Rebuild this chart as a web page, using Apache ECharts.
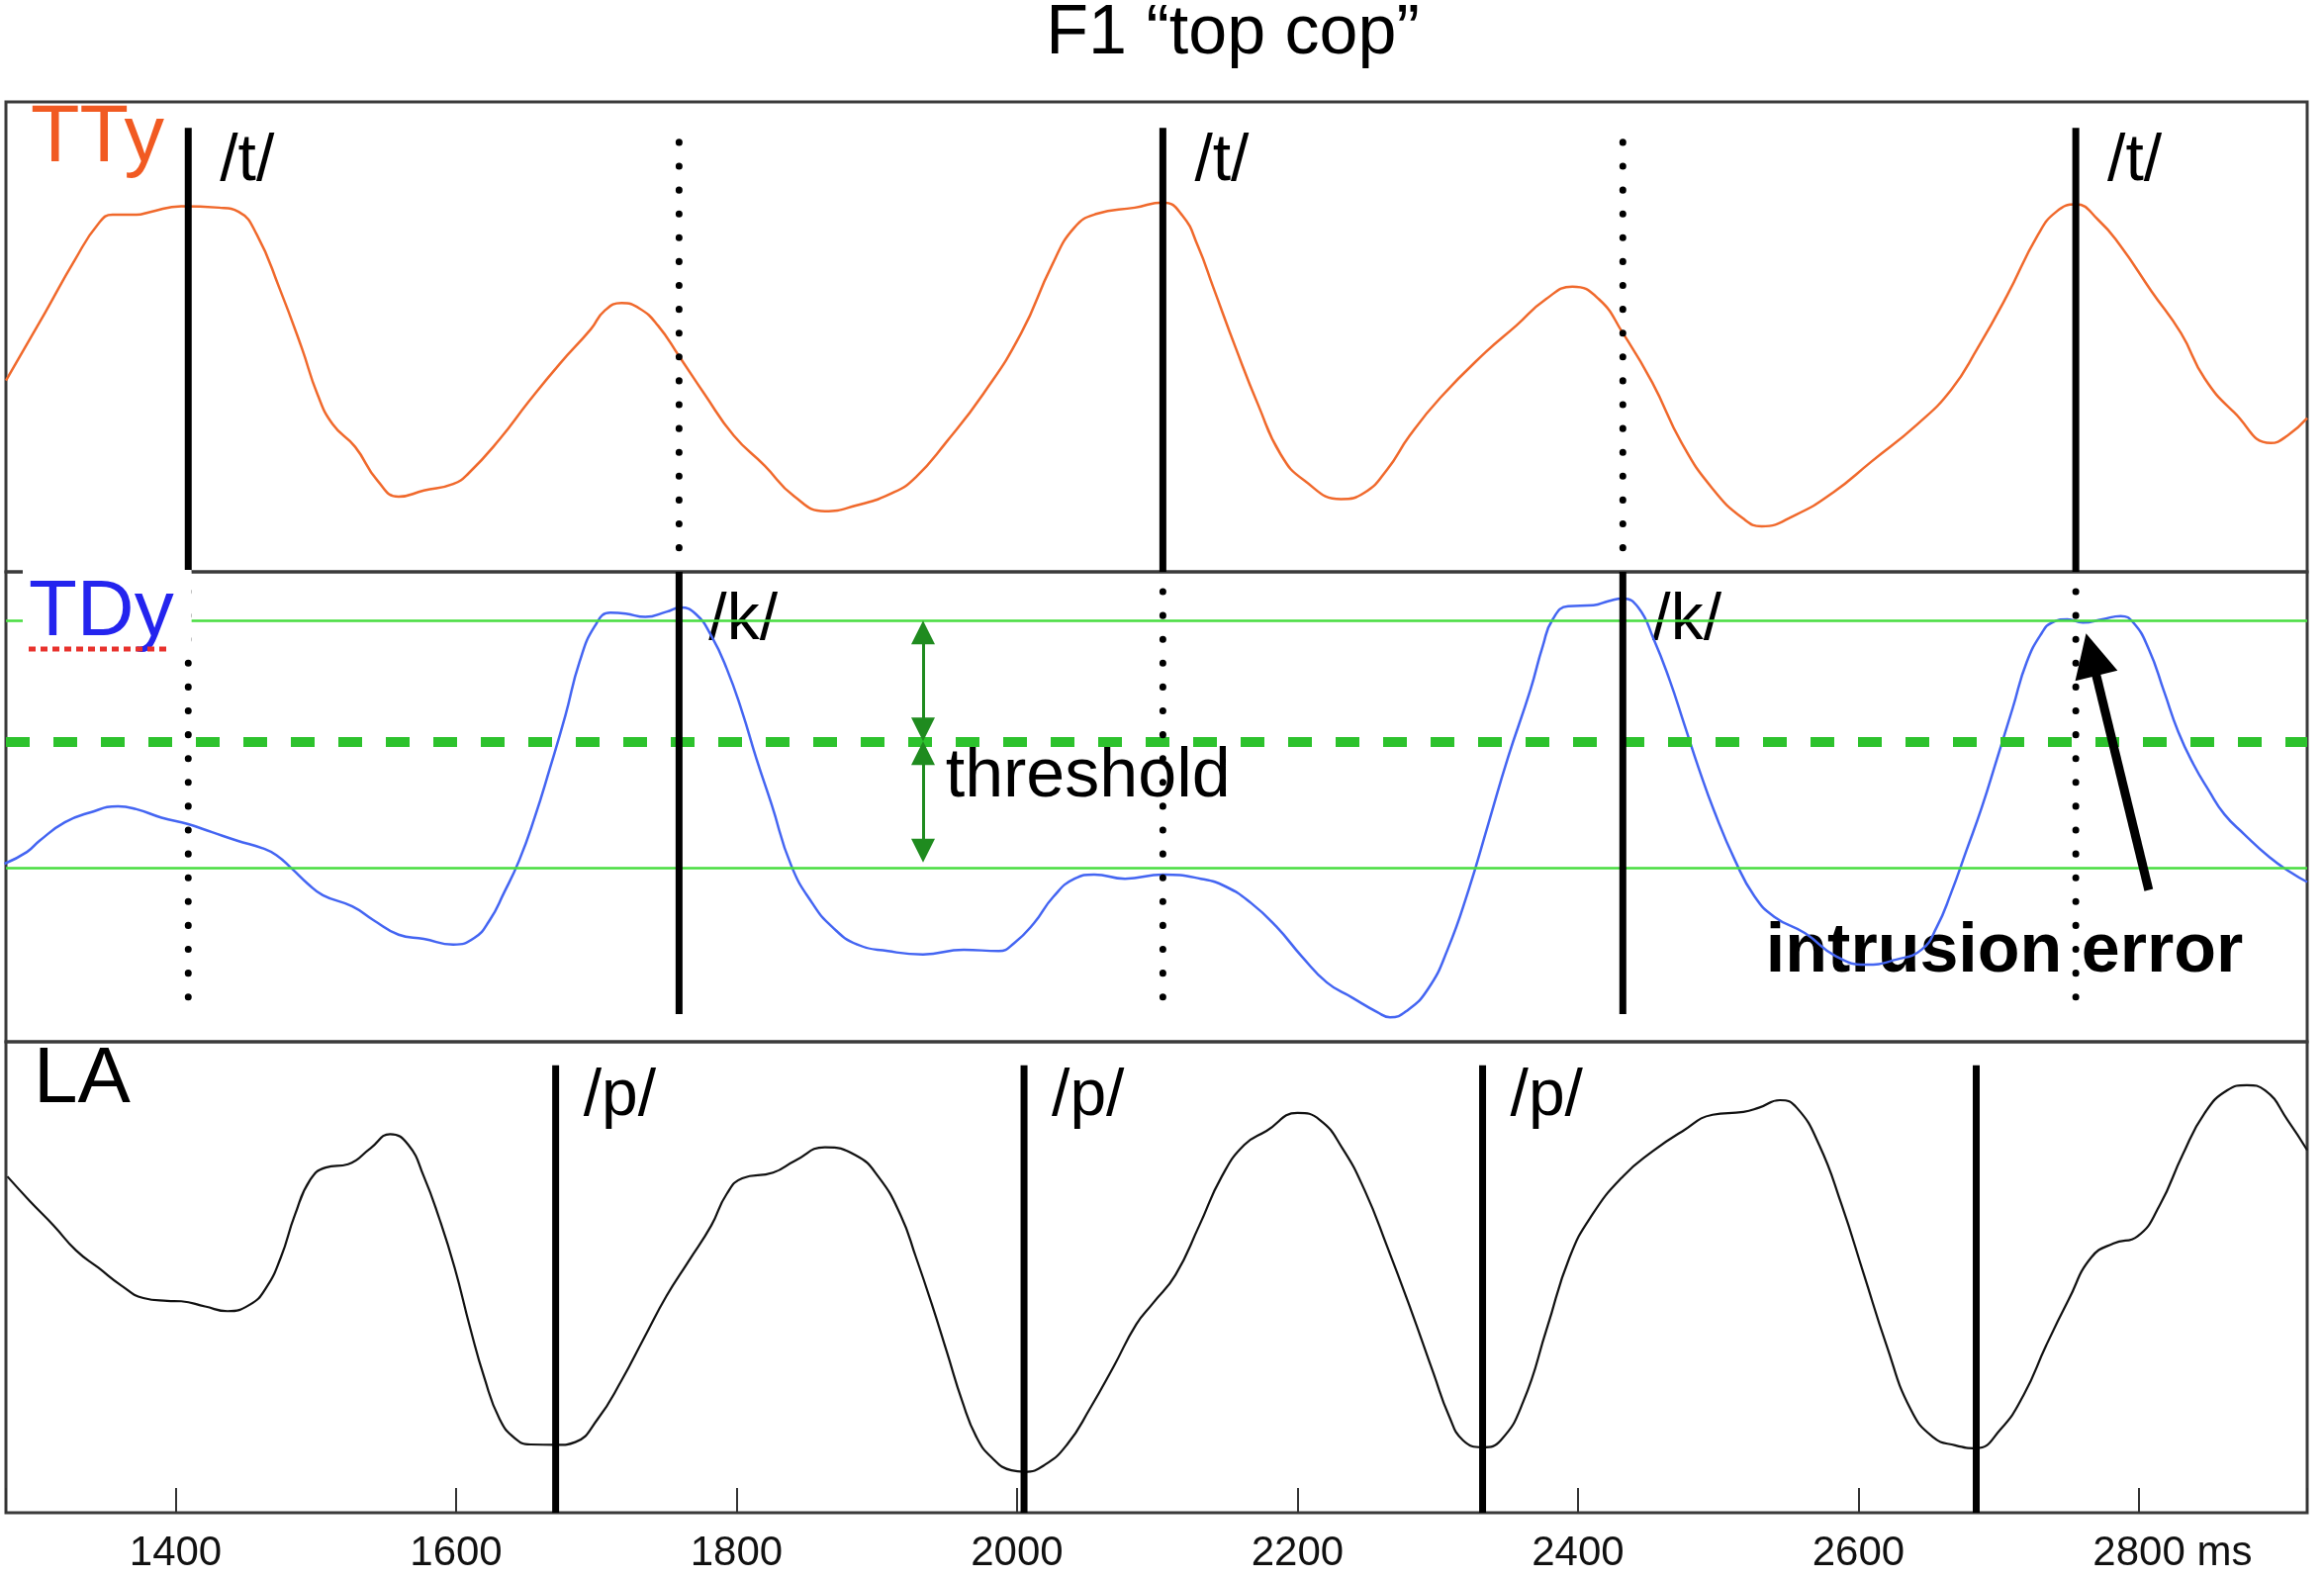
<!DOCTYPE html>
<html>
<head>
<meta charset="utf-8">
<script src="https://cdn.jsdelivr.net/npm/echarts@6/dist/echarts.min.js"></script>
<style>
html,body{margin:0;padding:0;background:#fff;}
#chart{width:2349px;height:1597px;}
</style>
</head>
<body>
<div id="chart"></div>
<script>
// ---- data (time in ms, values in % of panel height) ----
const TTY = [[1279,40.7],[1307,55.2],[1328,66.3],[1345,74.1],[1355,76.0],[1372,76.0],[1382,76.6],[1404,77.8],[1431,77.5],[1445,76.6],[1458,71.7],[1474,60.4],[1490,47.6],[1501,37.9],[1512,31.4],[1528,26.6],[1544,19.4],[1559,16.0],[1577,17.3],[1598,18.7],[1609,21.0],[1631,28.2],[1652,36.3],[1674,44.3],[1696,51.6],[1706,55.6],[1718,57.2],[1731,56.0],[1744,52.4],[1759,45.9],[1777,37.9],[1798,29.0],[1820,22.6],[1841,16.1],[1863,12.9],[1885,14.1],[1912,16.9],[1928,20.2],[1949,27.4],[1976,37.9],[2003,50.8],[2025,65.3],[2041,73.3],[2057,76.2],[2084,77.5],[2104,78.6],[2118,75.8],[2129,69.3],[2140,60.5],[2156,47.6],[2172,35.5],[2188,25.0],[2205,19.4],[2231,15.5],[2248,16.9],[2264,21.8],[2280,29.0],[2302,37.1],[2334,46.7],[2356,52.4],[2377,58.0],[2396,60.7],[2415,58.0],[2432,50.8],[2453,40.3],[2474,27.4],[2496,17.7],[2518,11.3],[2531,9.7],[2555,12.1],[2582,16.9],[2609,23.4],[2642,31.4],[2666,38.7],[2685,47.6],[2706,58.8],[2728,71.7],[2741,76.6],[2755,78.2],[2771,74.9],[2787,69.3],[2809,59.7],[2830,50.8],[2847,41.1],[2868,33.9],[2894,27.4],[2906,29.0],[2920,32.7]];

const TDY = [[1278,37.9],[1294,40.4],[1303,42.8],[1321,46.7],[1339,48.8],[1359,50.1],[1372,49.5],[1390,47.7],[1409,46.3],[1426,44.6],[1444,42.8],[1462,41.2],[1472,39.7],[1483,36.8],[1494,33.7],[1505,31.2],[1526,28.8],[1541,25.9],[1559,22.8],[1577,21.9],[1598,20.7],[1613,22.1],[1624,25.9],[1634,31.6],[1645,38.6],[1656,47.7],[1667,58.3],[1678,69.5],[1688,80.8],[1699,88.5],[1710,91.3],[1721,91.1],[1735,90.4],[1750,91.5],[1760,92.4],[1771,91.0],[1782,86.4],[1793,79.4],[1804,70.2],[1814,60.4],[1825,50.5],[1839,37.5],[1854,29.5],[1868,24.5],[1886,20.7],[1908,19.3],[1933,18.6],[1962,19.6],[1987,19.3],[1998,21.0],[2012,25.2],[2026,30.9],[2041,34.7],[2055,35.6],[2077,34.7],[2104,35.6],[2131,34.7],[2149,33.0],[2167,29.5],[2185,24.5],[2203,18.2],[2221,12.6],[2239,9.4],[2257,6.3],[2266,5.2],[2278,6.6],[2293,11.2],[2307,19.6],[2322,32.3],[2336,46.3],[2350,60.4],[2366,74.8],[2375,84.3],[2382,89.9],[2393,92.7],[2411,92.9],[2422,93.8],[2432,94.3],[2443,92.4],[2454,85.7],[2465,77.3],[2476,67.4],[2486,58.3],[2497,49.2],[2512,38.6],[2526,30.9],[2540,26.6],[2562,23.1],[2584,18.2],[2605,16.4],[2627,17.5],[2645,19.6],[2656,24.5],[2666,31.6],[2677,40.7],[2688,49.9],[2699,60.4],[2710,71.0],[2720,80.8],[2731,87.1],[2738,89.2],[2749,89.9],[2760,89.2],[2774,89.9],[2787,90.6],[2796,89.2],[2807,83.6],[2818,74.5],[2828,66.0],[2839,59.0],[2850,53.4],[2861,48.4],[2875,44.2],[2893,39.3],[2908,36.1],[2920,34.0]];

const LA = [[1280,71.4],[1296,66.2],[1313,61.0],[1329,55.7],[1345,52.0],[1361,48.3],[1377,45.6],[1394,45.0],[1404,44.9],[1421,43.8],[1437,42.8],[1453,44.2],[1464,47.5],[1475,54.2],[1485,63.2],[1496,70.7],[1507,73.3],[1523,74.0],[1539,77.4],[1553,80.4],[1566,78.1],[1577,71.4],[1588,62.5],[1599,52.0],[1610,39.3],[1620,28.8],[1631,19.9],[1642,15.8],[1653,14.5],[1672,14.4],[1685,15.0],[1701,19.9],[1718,28.1],[1734,37.1],[1750,46.0],[1766,53.5],[1782,61.0],[1793,67.7],[1804,71.0],[1826,72.2],[1842,74.8],[1863,77.6],[1885,75.9],[1901,71.4],[1917,63.2],[1928,54.2],[1939,44.5],[1950,34.1],[1961,23.6],[1971,16.1],[1982,11.7],[1996,9.0],[2005,8.7],[2020,10.2],[2036,14.6],[2052,22.1],[2069,31.1],[2085,40.0],[2097,44.5],[2113,50.5],[2130,61.0],[2146,71.4],[2162,78.1],[2178,81.1],[2200,84.9],[2216,83.4],[2232,77.4],[2248,68.4],[2264,56.5],[2281,43.0],[2297,29.6],[2308,20.6],[2318,15.4],[2332,13.9],[2345,15.4],[2361,23.6],[2378,39.3],[2394,54.2],[2410,63.2],[2432,71.4],[2453,76.7],[2475,81.1],[2496,84.5],[2518,85.1],[2529,86.0],[2544,87.6],[2556,86.0],[2572,78.1],[2588,65.4],[2604,50.5],[2620,35.6],[2637,22.1],[2653,16.1],[2669,14.3],[2684,13.7],[2701,17.6],[2718,25.1],[2734,35.6],[2750,45.3],[2766,54.2],[2782,57.2],[2799,58.7],[2815,65.4],[2831,75.9],[2847,84.9],[2863,89.7],[2877,90.8],[2890,89.7],[2906,83.4],[2920,77.0]];

const T_TIMES = [1409, 2104, 2755];        // /t/ events
const K_TIMES = [1759, 2432];              // /k/ events
const P_TIMES = [1671, 2005, 2332, 2684];  // /p/ events
const P_LABELLED = 3;                      // first three /p/ lines are labelled

const TD_UPPER = 89.7;       // upper thin green reference
const TD_THRESHOLD = 63.9;   // dashed threshold
const TD_LOWER = 36.9;       // lower thin green reference

const X_MIN = 1279, X_MAX = 2920;
const TITLE = 'F1 “top cop”';
const PANEL_NAMES = ['TTy', 'TDy', 'LA'];

// ---- chart ----
const FONT = '"Liberation Sans", Arial, Helvetica, sans-serif';
const chart = echarts.init(document.getElementById('chart'), null, {renderer: 'canvas'});

const gridTops = [103, 578, 1053];
const gridHeights = [475, 475, 476];
const grids = gridTops.map((t, i) => ({
  left: 6, width: 2326, top: t, height: gridHeights[i],
  show: true, borderColor: '#3a3a3a', borderWidth: 3, backgroundColor: 'transparent'
}));

const xAxes = [0, 1, 2].map(i => ({
  gridIndex: i, type: 'value', min: X_MIN, max: X_MAX,
  splitNumber: 8, minInterval: 200, maxInterval: 200,
  show: i === 2,
  axisLine: {show: false},
  splitLine: {show: false},
  axisTick: {show: i === 2, inside: true, length: 25, lineStyle: {color: '#333', width: 2}},
  axisLabel: {
    show: i === 2, fontSize: 42, color: '#111', fontFamily: FONT, margin: 20,
    formatter: v => (v % 200 === 0 ? (v === 2800 ? '{pad|}2800 ms' : String(v)) : ''),
    rich: {pad: {width: 68}}
  }
}));
const yAxes = [0, 1, 2].map(i => ({gridIndex: i, type: 'value', min: 0, max: 100, show: false}));

const SOLID = {color: '#000', width: 7, type: 'solid'};
const DOTTED = {color: '#000', width: 7, type: [0.1, 24], cap: 'round'};

function vline(t, gi, top, bot, style) {
  return {
    type: 'line', xAxisIndex: gi, yAxisIndex: gi, data: [[t, top], [t, bot]],
    symbol: 'none', lineStyle: style, z: 6, silent: true, animation: false
  };
}
function textSeries(gi, items, dist, extra) {
  return {
    type: 'scatter', xAxisIndex: gi, yAxisIndex: gi, symbolSize: 0, z: 3, silent: true,
    itemStyle: {opacity: 1},
    data: items,
    label: Object.assign({show: true, position: 'right', distance: dist, formatter: p => p.name,
      fontSize: 66, color: '#000', opacity: 1, fontFamily: FONT}, extra || {})
  };
}
function phonemes(times, gi, v, text, dist) {
  return textSeries(gi, times.map(t => ({value: [t, v], name: text})), dist);
}

const series = [
  {type: 'line', xAxisIndex: 0, yAxisIndex: 0, data: TTY, smooth: 0.5, symbol: 'none',
   lineStyle: {color: '#f0692c', width: 2.5}, z: 4},
  {type: 'line', xAxisIndex: 1, yAxisIndex: 1, data: TDY, smooth: 0.5, symbol: 'none',
   lineStyle: {color: '#4465f2', width: 2.5}, z: 4,
   markLine: {
     silent: true, symbol: 'none', label: {show: false}, animation: false,
     data: [
       {yAxis: TD_UPPER, lineStyle: {color: '#47dd3f', width: 2.5, type: 'solid'}},
       {yAxis: TD_LOWER, lineStyle: {color: '#47dd3f', width: 2.5, type: 'solid'}},
       {yAxis: TD_THRESHOLD, lineStyle: {color: '#2dc22d', width: 10, type: [24, 24]}}
     ]
   }},
  {type: 'line', xAxisIndex: 2, yAxisIndex: 2, data: LA, smooth: 0.5, symbol: 'none',
   lineStyle: {color: '#111', width: 2.2}, z: 4}
];

T_TIMES.forEach(t => series.push(vline(t, 0, 94.5, 0, SOLID)));
K_TIMES.forEach(t => series.push(vline(t, 0, 91.4, 4.8, DOTTED)));
K_TIMES.forEach(t => series.push(vline(t, 1, 100, 5.9, SOLID)));
T_TIMES.forEach(t => series.push(vline(t, 1, 95.8, 9.5, DOTTED)));
P_TIMES.forEach(t => series.push(vline(t, 2, 95.0, 0, SOLID)));

series.push(phonemes(T_TIMES, 0, 87.2, '/t/', 32));
series.push(phonemes(K_TIMES, 1, 89.5, '/k/', 30));
series.push(phonemes(P_TIMES.slice(0, P_LABELLED), 2, 88.2, '/p/', 28));

// annotation texts in TDy panel
series.push(textSeries(1, [{value: [1949, 56.2], name: 'threshold'}], 0, {fontSize: 70}));
series.push(textSeries(1, [{value: [2534, 19.0], name: 'intrusion error'}], 0, {fontSize: 70, fontWeight: 'bold'}));

// green double arrows showing the threshold band
series.push({
  type: 'lines', coordinateSystem: 'cartesian2d', xAxisIndex: 1, yAxisIndex: 1, silent: true, z: 6,
  symbol: ['triangle', 'triangle'], symbolSize: 24,
  lineStyle: {color: '#1f8b1f', width: 3, opacity: 1, curveness: 0},
  data: [{coords: [[1933, 66.5], [1933, 87.1]]}, {coords: [[1933, 61.4], [1933, 40.7]]}]
});
// black arrow pointing at intrusion
series.push({
  type: 'lines', coordinateSystem: 'cartesian2d', xAxisIndex: 1, yAxisIndex: 1, silent: true, z: 7,
  symbol: ['none', 'triangle'], symbolSize: 44,
  lineStyle: {color: '#000', width: 9, opacity: 1, curveness: 0},
  data: [{coords: [[2807, 32.3], [2766, 82.4]]}]
});

const graphic = [
  {type: 'text', x: 1246, y: 35, z: 100,
   style: {text: TITLE, fontSize: 70, fontFamily: FONT, fill: '#000', align: 'center', verticalAlign: 'middle'}},
  {type: 'text', x: 31, y: 141, z: 100,
   style: {text: PANEL_NAMES[0], fontSize: 81, fontFamily: FONT, fill: '#f15a22', align: 'left', verticalAlign: 'middle'}},
  {type: 'text', x: 23, y: 620, z: 100,
   style: {text: PANEL_NAMES[1], fontSize: 80, fontFamily: FONT, fill: '#2424ee', align: 'left', verticalAlign: 'middle',
     backgroundColor: '#fff', padding: [4, 18, 4, 6]}},
  {type: 'line', z: 101, shape: {x1: 29, y1: 656, x2: 168, y2: 656},
   style: {stroke: '#e8322d', lineWidth: 5, lineDash: [7, 5]}},
  {type: 'text', x: 34, y: 1092, z: 100,
   style: {text: PANEL_NAMES[2], fontSize: 80, fontFamily: FONT, fill: '#000', align: 'left', verticalAlign: 'middle'}}
];

chart.setOption({
  animation: false,
  backgroundColor: '#fff',
  grid: grids,
  xAxis: xAxes,
  yAxis: yAxes,
  series: series,
  graphic: graphic
});
</script>
</body>
</html>
